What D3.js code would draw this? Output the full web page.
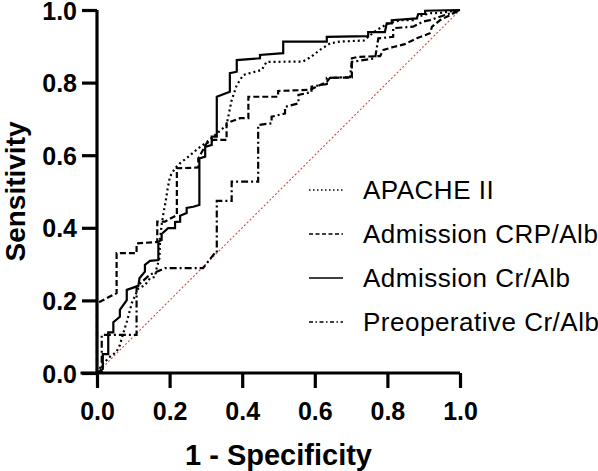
<!DOCTYPE html>
<html>
<head>
<meta charset="utf-8">
<script src="https://cdn.jsdelivr.net/npm/d3@7"></script>
<style>
  html, body { margin: 0; padding: 0; background: #fff; }
  svg { display: block; }
  text { font-family: Arial, "Liberation Sans", sans-serif; fill: #000; }
</style>
</head>
<body>
<svg id="chart" width="598" height="471"></svg>
<script>
// ---- data ----
const seriesNames = ["APACHE II", "Admission CRP/Alb", "Admission Cr/Alb", "Preoperative Cr/Alb"];
const tickValues = [0, 0.2, 0.4, 0.6, 0.8, 1.0];
const xTitle = "1 - Specificity";
const yTitle = "Sensitivity";

const apacheFpr  = [0,0.013,0.036,0.054,0.063,0.071,0.082,0.091,0.096,0.114,0.132,0.146,0.160,0.163,0.172,0.174,0.178,0.183,0.189,0.194,0.201,0.215,0.229,0.252,0.279,0.298,0.320,0.357,0.371,0.385,0.403,0.421,0.454,0.467,0.567,0.587,0.614,0.642,0.669,0.738,0.747,0.771,0.798,0.835,0.871,0.890,0.917,0.945,1];
const apacheSens = [0,0.022,0.045,0.059,0.077,0.105,0.141,0.174,0.193,0.233,0.242,0.261,0.265,0.284,0.316,0.371,0.408,0.440,0.472,0.504,0.541,0.564,0.578,0.596,0.619,0.633,0.651,0.683,0.752,0.793,0.821,0.826,0.835,0.857,0.858,0.869,0.890,0.908,0.913,0.916,0.926,0.945,0.961,0.972,0.972,0.983,0.991,0.992,1];

const crpFpr  = [0,0,0.008,0.027,0.054,0.054,0.109,0.109,0.166,0.166,0.187,0.220,0.220,0.279,0.279,0.302,0.320,0.357,0.357,0.394,0.417,0.417,0.499,0.499,0.587,0.605,0.633,0.642,0.702,0.702,0.719,0.780,0.789,0.816,0.848,0.881,0.917,0.923,0.945,1];
const crpSens = [0,0.192,0.196,0.206,0.220,0.330,0.330,0.357,0.361,0.417,0.417,0.435,0.564,0.566,0.591,0.633,0.642,0.642,0.688,0.702,0.702,0.761,0.761,0.777,0.780,0.789,0.802,0.813,0.814,0.867,0.871,0.873,0.890,0.898,0.906,0.922,0.936,0.954,0.972,1];

const crFpr  = [0,0.016,0.016,0.031,0.031,0.045,0.045,0.063,0.063,0.082,0.082,0.114,0.117,0.132,0.132,0.146,0.169,0.169,0.178,0.178,0.196,0.215,0.215,0.229,0.229,0.247,0.247,0.265,0.282,0.282,0.298,0.298,0.316,0.316,0.330,0.330,0.366,0.366,0.385,0.385,0.449,0.449,0.513,0.513,0.633,0.633,0.747,0.747,0.793,0.798,0.812,0.812,0.881,0.885,0.904,0.904,1];
const crSens = [0,0.011,0.052,0.052,0.112,0.112,0.140,0.155,0.174,0.201,0.229,0.240,0.261,0.279,0.298,0.309,0.311,0.362,0.366,0.383,0.399,0.399,0.416,0.417,0.433,0.441,0.455,0.458,0.463,0.591,0.596,0.623,0.628,0.651,0.651,0.761,0.775,0.826,0.830,0.862,0.867,0.876,0.881,0.913,0.913,0.926,0.928,0.939,0.939,0.963,0.963,0.972,0.977,0.989,0.989,0.998,1];

const preFpr  = [0,0.013,0.013,0.109,0.109,0.146,0.187,0.292,0.325,0.330,0.330,0.371,0.371,0.444,0.444,0.481,0.481,0.518,0.518,0.555,0.555,0.591,0.591,0.633,0.633,0.697,0.702,0.766,0.775,0.816,0.816,0.871,0.898,0.917,1];
const preSens = [0,0,0.105,0.105,0.238,0.271,0.289,0.289,0.331,0.331,0.474,0.474,0.527,0.527,0.683,0.688,0.706,0.715,0.733,0.743,0.766,0.774,0.789,0.796,0.813,0.815,0.857,0.867,0.922,0.926,0.950,0.954,0.968,0.972,1];

// ---- styles ----
const styles = [
  { fpr: apacheFpr, sens: apacheSens, dash: "2,3",        width: 2.2, legDash: "1.5,2.5" },
  { fpr: crpFpr,    sens: crpSens,    dash: "6,3",        width: 2.2, legDash: "4,2.5" },
  { fpr: crFpr,     sens: crSens,     dash: null,         width: 2.2, legDash: null },
  { fpr: preFpr,    sens: preSens,    dash: "7,3,2,3",    width: 2.2, legDash: "4,2.5,1.5,2.5" }
];

const svg = d3.select("#chart");
const x = d3.scaleLinear().domain([0, 1]).range([97, 460]);
const y = d3.scaleLinear().domain([0, 1]).range([373, 10]);

// reference diagonal
svg.append("line")
  .attr("x1", x(0)).attr("y1", y(0)).attr("x2", x(1)).attr("y2", y(1))
  .attr("stroke", "#e8413c").attr("stroke-width", 1.1)
  .attr("stroke-dasharray", "2,2");

// curves
const line = d3.line().x(d => x(d[0])).y(d => y(d[1]));
styles.forEach(s => {
  const pts = s.fpr.map((f, i) => [f, s.sens[i]]);
  svg.append("path")
    .attr("d", line(pts))
    .attr("fill", "none")
    .attr("stroke", "#000")
    .attr("stroke-width", s.width)
    .attr("stroke-dasharray", s.dash)
    .attr("stroke-linejoin", "miter");
});

// axes
const fmt = d3.format(".1f");
const xAxis = svg.append("g").attr("transform", `translate(0,${y(0)})`)
  .call(d3.axisBottom(x).tickValues(tickValues).tickFormat(fmt).tickSize(15).tickSizeOuter(0));
const yAxis = svg.append("g").attr("transform", `translate(${x(0)},0)`)
  .call(d3.axisLeft(y).tickValues(tickValues).tickFormat(fmt).tickSize(15).tickSizeOuter(0));

[xAxis, yAxis].forEach(g => {
  g.select(".domain").attr("stroke", "#000").attr("stroke-width", 3.2);
  g.selectAll(".tick line").attr("stroke", "#000").attr("stroke-width", 3.2);
  g.selectAll(".tick text")
    .style("font-family", "Arial, 'Liberation Sans', sans-serif")
    .style("font-size", "25px").style("font-weight", "bold").attr("fill", "#000");
});
xAxis.select(".domain").attr("d", `M${x(0) - 16.5},0H${x(1)}`);
yAxis.select(".domain").attr("d", `M0,${y(0) + 1.6}V${y(1)}`);
xAxis.selectAll(".tick text").attr("y", 47).attr("dy", 0);
yAxis.selectAll(".tick text").attr("x", -20).attr("dy", "0.36em");

// axis titles
svg.append("text")
  .attr("x", (x(0) + x(1)) / 2).attr("y", 465)
  .attr("text-anchor", "middle")
  .style("font-size", "29px").style("font-weight", "bold")
  .text(xTitle);
svg.append("text")
  .attr("transform", `translate(25,${(y(0) + y(1)) / 2}) rotate(-90)`)
  .attr("text-anchor", "middle")
  .style("font-size", "28px").style("font-weight", "bold")
  .text(yTitle);

// legend
const legendY = [190, 234, 278, 322];
const leg = svg.append("g");
seriesNames.forEach((name, i) => {
  const s = styles[i];
  leg.append("line")
    .attr("x1", 309).attr("x2", 343)
    .attr("y1", legendY[i]).attr("y2", legendY[i])
    .attr("stroke", "#000").attr("stroke-width", 1.6)
    .attr("stroke-dasharray", s.legDash);
  leg.append("text")
    .attr("x", 363).attr("y", legendY[i]).attr("dy", "0.35em")
    .style("font-size", "26px").style("letter-spacing", "0.5px")
    .text(name);
});
</script>
</body>
</html>
